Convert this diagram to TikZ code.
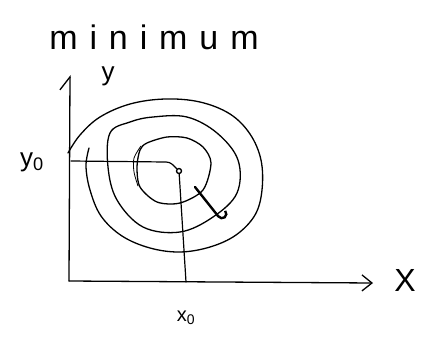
\documentclass[tikz,border=0pt]{standalone}
\usepackage{fontspec}
\setmainfont{Liberation Sans}
\newfontfamily\handfont[LetterSpace=35]{Liberation Sans}
\usetikzlibrary{arrows.meta,positioning}

\begin{document}
\begin{tikzpicture}[x=1pt, y=-1pt,
  line width=1.2pt, line cap=round, line join=round,
  axis/.style={line width=1.3pt},
  ring/.style={line width=1.3pt},
  lbl/.style={inner sep=0pt, font=\fontsize{26}{28}\selectfont},
  ctrdot/.style={draw, circle, line width=1.4pt, minimum size=5pt, inner sep=0pt},
  >={Straight Barb[length=10pt, width=16pt]}]
\useasboundingbox (0,0) rectangle (421,338);
% axes
\coordinate (orig) at (69,281);
\coordinate (ytop) at (70,75);
\coordinate (xend) at (373,283);
\draw[axis, -{Straight Barb[left, length=13pt, width=20pt]}] (orig) -- (ytop);
\draw[axis, ->] (orig) -- (xend);
% labels
\node[lbl, font=\handfont\fontsize{34}{36}\selectfont] (title) at (154,37) {minimum};
\node[lbl] (ylbl) at (108,76) {y};
\node[lbl, font=\fontsize{32}{34}\selectfont] (xlbl) at (405,280) {X};
\node[lbl] (y0lbl) at (32,162) {y\textsubscript{0}};
\node[lbl, font=\fontsize{20}{22}\selectfont] (x0lbl) at (186,318) {x\textsubscript{0}};
% level curves
\draw[ring] plot[smooth, tension=0.6] coordinates {(68,153) (80,135) (100,117) (130,104) (165,99) (200,102) (230,114) (250,134) (261,160) (262,190) (255,215) (236,235) (210,247) (180,252) (150,248) (122,236) (101,216) (90,190) (86,166) (89,148)};
\draw[ring] plot[smooth cycle, tension=0.6] coordinates {(110,133) (130,122) (153,117) (187,117) (217,133) (238,160) (237,193) (213,217) (180,232) (143,227) (117,200) (108,167)};
\draw[ring] plot[smooth cycle] coordinates {(140,150) (137,167) (140,187) (157,202) (180,203) (203,190) (211,163) (203,147) (187,138) (167,137) (147,143)};
\draw[ring, line width=0.8pt] plot[smooth] coordinates {(141,146) (134,158) (134,172) (138,186)};
% minimum and guide lines
\node[ctrdot] (ctr) at (179,171) {};
\coordinate (y0pt) at (71,161);
\coordinate (x0pt) at (186,282);
\draw (y0pt) -- (166,162) to[out=0, in=135] (ctr);
\draw (ctr) -- (x0pt);
% descent step
\coordinate (gfrom) at (195,187);
\coordinate (gto) at (222,221);
\draw[line width=2.4pt, -{Hooks[left, length=6pt, width=20pt]}] (gfrom) -- (gto);
\end{tikzpicture}
\end{document}
